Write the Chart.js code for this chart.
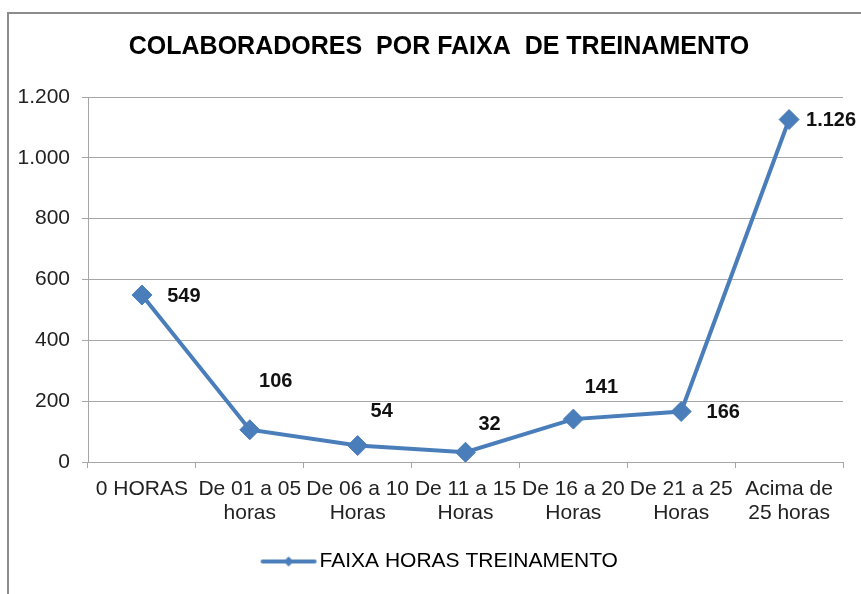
<!DOCTYPE html>
<html>
<head>
<meta charset="utf-8">
<script src="https://cdn.jsdelivr.net/npm/chart.js@4"></script>
<style>
  html, body { margin: 0; padding: 0; background: #fff; }
  #wrap { width: 861px; height: 594px; }
</style>
</head>
<body>
<div id="wrap"><canvas id="treinamentoChart" width="861" height="594"></canvas></div>
<script>
// Dados do grafico
const categorias = [
    ["0 HORAS"],
    ["De 01 a 05", "horas"],
    ["De 06 a 10", "Horas"],
    ["De 11 a 15", "Horas"],
    ["De 16 a 20", "Horas"],
    ["De 21 a 25", "Horas"],
    ["Acima de", "25 horas"]
];
const colaboradores = [549, 106, 54, 32, 141, 166, 1126];
const tituloGrafico = "COLABORADORES  POR FAIXA  DE TREINAMENTO";
const nomeSerie = "FAIXA HORAS TREINAMENTO";

const azul = "#4a7ebb";
const cinza = "#a6a6a6";

// formato pt-BR: 1126 -> 1.126
function fmt(v) {
    return String(Math.round(v)).replace(/\B(?=(\d{3})+(?!\d))/g, ".");
}

// icone da legenda: linha com losango
function legendaIcone() {
    const c = document.createElement("canvas");
    c.width = 98;
    c.height = 14;
    const g = c.getContext("2d");
    g.strokeStyle = azul;
    g.lineWidth = 4;
    g.lineCap = "round";
    g.beginPath();
    g.moveTo(27, 7);
    g.lineTo(79, 7);
    g.stroke();
    g.fillStyle = azul;
    g.beginPath();
    g.moveTo(53, 2);
    g.lineTo(58, 7);
    g.lineTo(53, 12);
    g.lineTo(48, 7);
    g.closePath();
    g.fill();
    return c;
}

// moldura cinza (canto superior esquerdo)
const moldura = {
    id: "moldura",
    beforeDraw(chart) {
        const ctx = chart.ctx;
        ctx.save();
        ctx.strokeStyle = "#8c8c8c";
        ctx.lineWidth = 2;
        ctx.beginPath();
        ctx.moveTo(8, 594);
        ctx.lineTo(8, 13);
        ctx.lineTo(861, 13);
        ctx.stroke();
        ctx.restore();
    }
};

// deixa os rotulos do eixo y usarem a margem esquerda (sem corte)
const eixoY = {
    id: "eixoY",
    afterLayout(chart) {
        chart.scales.y.left = 0;
    }
};

// rotulos de dados
const rotulos = {
    id: "rotulos",
    afterDatasetsDraw(chart, args, opts) {
        const ctx = chart.ctx;
        const meta = chart.getDatasetMeta(0);
        ctx.save();
        ctx.font = "bold 20px 'Liberation Sans', Arial, sans-serif";
        ctx.fillStyle = "#111";
        ctx.textAlign = "center";
        ctx.textBaseline = "middle";
        meta.data.forEach((pt, i) => {
            const off = opts.offsets[i];
            ctx.fillText(fmt(colaboradores[i]), pt.x + off[0], pt.y + off[1]);
        });
        ctx.restore();
    }
};

const ctx = document.getElementById("treinamentoChart").getContext("2d");
new Chart(ctx, {
    type: "line",
    data: {
        labels: categorias,
        datasets: [
            {
                label: nomeSerie,
                data: colaboradores,
                borderColor: azul,
                backgroundColor: azul,
                borderWidth: 4,
                pointStyle: "rectRot",
                pointRadius: 10,
                pointBorderWidth: 1,
                pointBackgroundColor: azul,
                pointBorderColor: azul,
                tension: 0,
                fill: false
            }
        ]
    },
    plugins: [moldura, eixoY, rotulos],
    options: {
        responsive: false,
        animation: false,
        layout: {
            padding: { left: 35, right: 18, top: 0, bottom: 12 }
        },
        plugins: {
            title: {
                display: true,
                text: tituloGrafico,
                color: "#000",
                font: { family: "'Liberation Sans', Arial", size: 25, weight: "bold" },
                padding: { top: 32, bottom: 35 }
            },
            legend: {
                position: "bottom",
                labels: {
                    color: "#222",
                    font: { family: "'Liberation Sans', Arial", size: 21 },
                    usePointStyle: true,
                    pointStyleWidth: 49,
                    generateLabels(chart) {
                        return [{
                            text: nomeSerie,
                            pointStyle: legendaIcone(),
                            fillStyle: azul,
                            strokeStyle: azul,
                            lineWidth: 0,
                            datasetIndex: 0
                        }];
                    }
                }
            },
            tooltip: { enabled: false },
            rotulos: {
                offsets: [[42, 1], [26, -48], [24, -34], [24, -28], [28, -32], [42, 1], [42, 1]]
            }
        },
        scales: {
            x: {
                offset: true,
                grid: {
                    offset: true,
                    drawOnChartArea: false,
                    drawTicks: true,
                    tickLength: 6,
                    color: cinza
                },
                border: { color: cinza, width: 1 },
                ticks: {
                    color: "#222",
                    font: { family: "'Liberation Sans', Arial", size: 21, lineHeight: 1.15 },
                    maxRotation: 0,
                    autoSkip: false,
                    padding: 9
                },
                afterFit(scale) { scale.height = 79; }
            },
            y: {
                min: 0,
                max: 1200,
                ticks: {
                    stepSize: 200,
                    color: "#222",
                    font: { family: "'Liberation Sans', Arial", size: 21 },
                    padding: 12,
                    callback: (v) => fmt(v)
                },
                grid: {
                    color: cinza,
                    tickLength: 6
                },
                border: { color: cinza, width: 1 },
                afterFit(scale) { scale.width = 53; }
            }
        }
    }
});
</script>
</body>
</html>
